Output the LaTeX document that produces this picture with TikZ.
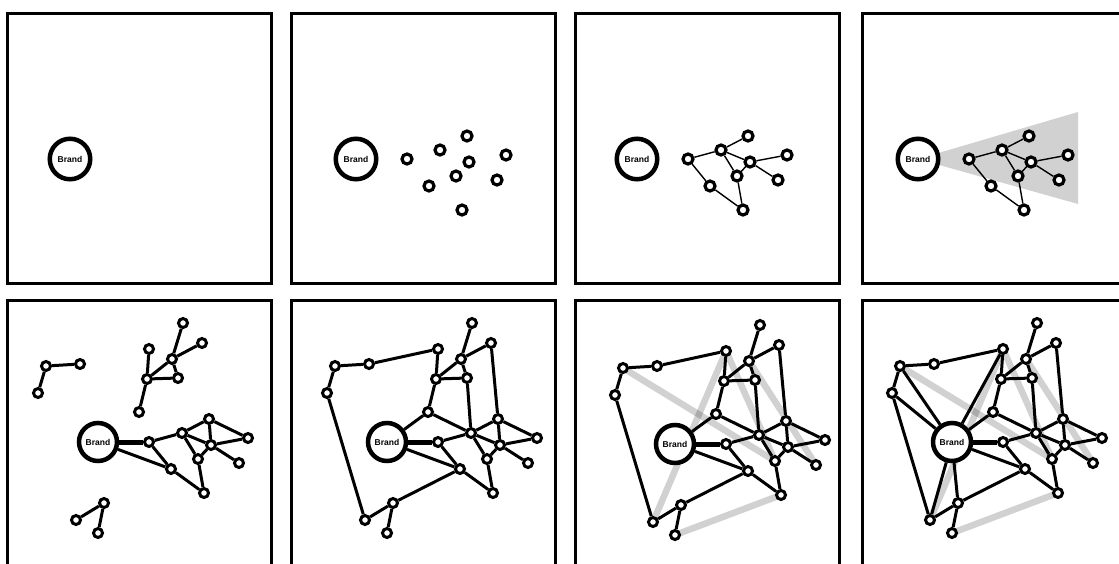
\documentclass[tikz,border=0pt]{standalone}
\usepackage{fontspec}
\newfontfamily\brandfont{Liberation Sans}
\usetikzlibrary{backgrounds}

% people around the brand, in pixels, y pointing down
\newcommand{\hubspots}{%
  \foreach \n/\x/\y in {a/51/0, b/84/-9, c/111/-23, d/113/3, e/100/17,
      f/73/27, g/150/-4, h/141/21, i/106/51}
    \node[spot] (\n) at (\x,\y) {};}
\newcommand{\outerspots}{%
  \foreach \n/\x/\y in {t1/85/-119, t2/104/-99, t3/74/-83, t4/51/-93,
      t5/49/-63, t6/80/-64, t7/41/-30, l1/-52/-76, l2/-18/-78, l3/-60/-49,
      b1/6/61, b2/-22/78, b3/0/91}
    \node[spot] (\n) at (\x,\y) {};}
\newcommand{\hubedges}[1]{%
  \foreach \u/\v in {a/b, b/c, b/d, b/e, d/e, d/g, d/h, a/f, f/i, e/i}
    \draw[#1] (\u) -- (\v);}
\newcommand{\clusteredges}{%
  \foreach \u/\v in {c/d, c/g, brand/f, t1/t3, t2/t3, t3/t5, t3/t6, t4/t5,
      t5/t6, t5/t7, l1/l2, l1/l3, b1/b2, b1/b3}
    \draw[link] (\u) -- (\v);
  \draw[spoke] (brand) -- (a);}
\newcommand{\bridgeedges}{%
  \foreach \u/\v in {l2/t4, l3/b2, f/b1, brand/t7, t7/b, t6/b, t2/c}
    \draw[link] (\u) -- (\v);}
\newcommand{\shortcuts}{%
  \begin{pgfonlayer}{background}
    \foreach \u/\v in {l1/e, t4/e, t4/b2, t3/h, b3/i}
      \draw[shortcut] (\u.center) -- (\v.center);
  \end{pgfonlayer}}

\begin{document}
\begin{tikzpicture}[x=1pt, y=-1pt,
  frame/.style={line width=3pt},
  brand/.style={circle, draw, line width=4.5pt, fill=white, minimum size=40.5pt, inner sep=0pt,
    font=\brandfont\bfseries\fontsize{8.5}{10}\selectfont},
  spot/.style={circle, draw, line width=3.2pt, fill=white, minimum size=10pt, inner sep=0pt},
  tie/.style={line width=1.4pt},
  link/.style={line width=3pt},
  spoke/.style={line width=5pt},
  shortcut/.style={line width=6.5pt, draw=black, draw opacity=0.18},
  wedge/.style={fill=black!18}]
\useasboundingbox (0,0) rectangle (1119,563);
\clip (0,0) rectangle (1119,563);
% frames
\foreach \x in {7,291,575,862} {
  \draw[frame] (\x,13.5) rectangle ++(264,269.5);
  \draw[frame] (\x,300.5) rectangle ++(264,300);
}
% 1
\begin{scope}[shift={(70,159)}, name prefix=p1-]
  \node[brand] (brand) at (0,0) {Brand};
\end{scope}
% 2
\begin{scope}[shift={(356,159)}, name prefix=p2-]
  \node[brand] (brand) at (0,0) {Brand};
  \hubspots
\end{scope}
% 3
\begin{scope}[shift={(637,159)}, name prefix=p3-]
  \node[brand] (brand) at (0,0) {Brand};
  \hubspots
  \hubedges{tie}
\end{scope}
% 4
\begin{scope}[shift={(918,159)}, name prefix=p4-]
  \node[brand] (brand) at (0,0) {Brand};
  \hubspots
  \hubedges{tie}
  \begin{pgfonlayer}{background}
    \fill[wedge] (brand.center) -- (160,-47) -- (160,45) -- cycle;
  \end{pgfonlayer}
\end{scope}
% bottom row
\begin{scope}[brand/.append style={minimum size=38pt}, spot/.append style={minimum size=9pt, line width=3pt}]
% 5
\begin{scope}[shift={(98,442)}, name prefix=p5-]
  \node[brand] (brand) at (0,0) {Brand};
  \hubspots
  \outerspots
  \hubedges{link}
  \clusteredges
\end{scope}
% 6
\begin{scope}[shift={(387,442)}, name prefix=p6-]
  \node[brand] (brand) at (0,0) {Brand};
  \hubspots
  \outerspots
  \hubedges{link}
  \clusteredges
  \bridgeedges
\end{scope}
% 7
\begin{scope}[shift={(675,444)}, name prefix=p7-]
  \node[brand] (brand) at (0,0) {Brand};
  \hubspots
  \outerspots
  \hubedges{link}
  \clusteredges
  \bridgeedges
  \shortcuts
\end{scope}
% 8
\begin{scope}[shift={(952,442)}, name prefix=p8-]
  \node[brand] (brand) at (0,0) {Brand};
  \hubspots
  \outerspots
  \hubedges{link}
  \clusteredges
  \bridgeedges
  \shortcuts
  \foreach \v in {l1, l3, t4, b2, b1}
    \draw[link] (brand) -- (\v);
\end{scope}
\end{scope}
\end{tikzpicture}
\end{document}
